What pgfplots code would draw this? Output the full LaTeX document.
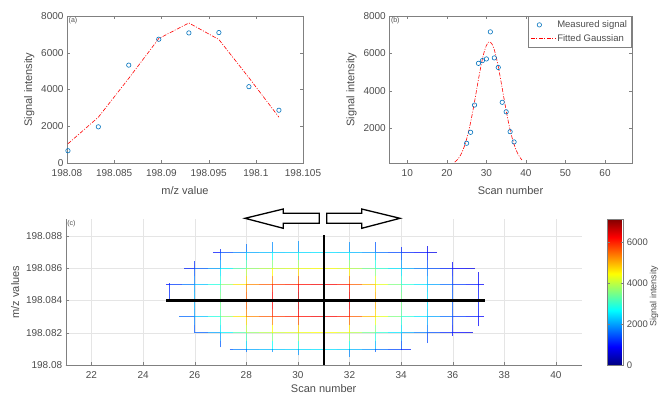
\documentclass[border=0pt]{standalone}
\usepackage{fontspec}
\setmainfont{Liberation Sans}
\usepackage{pgfplots}
\pgfplotsset{compat=1.18}

\definecolor{mblue}{rgb}{0,0.447,0.741}
\definecolor{axgray}{gray}{0.5}
\definecolor{txtgray}{gray}{0.3}

\pgfkeys{/pgf/number format/assume math mode=true, /pgf/number format/1000 sep={}}

\pgfplotsset{
  myaxis/.style={
    scale only axis,
    font=\fontsize{10}{12}\selectfont,
    tick label style={text=txtgray},
    xticklabel style={yshift=-3pt},
    label style={text=txtgray, font=\fontsize{11}{13}\selectfont},
    axis line style={axgray},
    tick style={axgray},
    major tick length=3pt,
    scaled ticks=false,
    /pgf/number format/assume math mode=true,
    /pgf/number format/1000 sep={},
  },
  fitline/.style={red, line width=0.6pt, dash pattern=on 4pt off 1.5pt on 1pt off 1.5pt},
  meas/.style={only marks, mark=o, mark size=2.2pt, mblue, mark options={line width=0.6pt}},
  meshline/.style={mesh, point meta=explicit, line width=0.7pt, opacity=0.75},
  longleg/.style={legend image code/.code={\draw[##1] (0cm,0cm) -- (0.85cm,0cm);}},
}

\begin{document}
\begin{tikzpicture}
\useasboundingbox (0,0) rectangle (660pt,397pt);

% ---------------- (a) ----------------
% x values are (m/z - 198.08) * 1000 ; tick labels give true m/z
\begin{axis}[myaxis, at={(67pt,234pt)}, anchor=south west, width=236pt, height=147pt,
  xmin=0, xmax=25, ymin=0, ymax=8000,
  xtick={0,5,10,15,20,25}, xticklabels={198.08,198.085,198.09,198.095,198.1,198.105},
  ytick={0,2000,4000,6000,8000},
  xlabel={m/z value}, ylabel={Signal intensity}, xlabel style={yshift=-3pt}]
\addplot[meas] coordinates {(0.1,668)(3.32,1968)(6.54,5327)(9.72,6736)(12.91,7079)(16.09,7097)(19.27,4153)(22.45,2871)};
\addplot[fitline] coordinates {(0.1,1047)(3.32,2492)(6.54,4605)(9.72,6772)(12.91,7621)(16.09,6718)(19.27,4641)(22.45,2492)};
\node[anchor=north west, font=\fontsize{7}{8}\selectfont, text=txtgray, inner sep=1.5pt] at (rel axis cs:0,1) {(a)};
\end{axis}

% ---------------- (b) ----------------
\begin{axis}[myaxis, at={(389.3pt,234pt)}, anchor=south west, width=242.4pt, height=147pt,
  xmin=5.45, xmax=66.75, ymin=140, ymax=8000,
  xtick={10,20,30,40,50,60}, ytick={2000,4000,6000,8000},
  xlabel={Scan number}, ylabel={Signal intensity}, xlabel style={yshift=-3pt},
  legend style={at={(1,1)}, anchor=north east, draw=axgray, font=\fontsize{9.5}{10.5}\selectfont, text=txtgray, inner sep=2.5pt, row sep=1.5pt},
  legend cell align=left]
\addplot[meas] coordinates {(25,1195)(26,1781)(27,3238)(28,5468)(29,5616)(30,5704)(31,7151)(32,5759)(33,5249)(34,3386)(35,2877)(36,1814)(37,1266)};
\addlegendentry{Measured signal}
\addplot[fitline, longleg] coordinates {(22,189)(22.5,280)(23,405)(23.5,573)(24,792)(24.5,1070)(25,1413)(25.5,1822)(26,2298)(26.5,2833)(27,3411)(27.5,4015)(28,4619)(28.5,5192)(29,5705)(29.5,6125)(30,6428)(30.5,6593)(30.8,6620)(31,6608)(31.5,6473)(32,6196)(32.5,5797)(33,5300)(33.5,4737)(34,4137)(34.5,3531)(35,2945)(35.5,2401)(36,1913)(36.5,1489)(37,1133)(37.5,843)(38,613)(38.5,435)(39,302)};
\addlegendentry{Fitted Gaussian}
\node[anchor=north west, font=\fontsize{7}{8}\selectfont, text=txtgray, inner sep=1.5pt] at (rel axis cs:0,1) {(b)};
\end{axis}

% ---------------- (c) ----------------
% y values are (m/z - 198.08) * 1000 ; tick labels give true m/z
\begin{axis}[myaxis, at={(65.7pt,32pt)}, anchor=south west, width=516pt, height=146pt,
  xmin=21, xmax=41, ymin=0, ymax=9.05,
  xtick={22,24,26,28,30,32,34,36,38,40}, ytick={0,2,4,6,8},
  yticklabels={198.08,198.082,198.084,198.086,198.088},
  axis x line*=bottom, axis y line*=left, axis line style={-}, tick align=inside,
  grid=major, major grid style={black!10},
  xlabel={Scan number}, ylabel={m/z values}, xlabel style={yshift=1pt},
  colormap/jet, point meta min=0, point meta max=7150,
  colorbar,
  colorbar style={at={(parent axis.north east)}, anchor=north west, xshift=17.3pt,
    width=15.7pt, ytick={0,2000,4000,6000}, font=\fontsize{9.5}{11}\selectfont,
    tick label style={text=txtgray}, axis line style={axgray}, tick style={axgray},
    major tick length=2pt, scaled ticks=false,
    /pgf/number format/assume math mode=true, /pgf/number format/1000 sep={}}]
% rows
\addplot[meshline] coordinates {(26.7,7)[800](27,7)[1251](27.5,7)[1627](28,7)[2002](28.5,7)[2127](29,7)[2252](29.5,7)[2315](30,7)[2377](30.5,7)[2440](31,7)[2503](31.5,7)[2403](32,7)[2302](32.5,7)[2052](33,7)[1802](33.5,7)[1527](34,7)[1251](34.5,7)[1064](35,7)[876](35.4,7)[600]};
\addplot[meshline] coordinates {(25.6,6)[900](26,6)[1351](26.5,6)[1802](27,6)[2252](27.5,6)[2928](28,6)[3604](28.5,6)[3829](29,6)[4054](29.5,6)[4167](30,6)[4279](30.5,6)[4392](31,6)[4505](31.5,6)[4325](32,6)[4144](32.5,6)[3694](33,6)[3243](33.5,6)[2748](34,6)[2252](34.5,6)[1915](35,6)[1577](35.5,6)[1284](36,6)[991](36.5,6)[800](36.85,6)[700]};
\addplot[meshline] coordinates {(24.9,5)[1000](25,5)[1094](25.5,5)[1513](26,5)[1931](26.5,5)[2575](27,5)[3218](27.5,5)[4183](28,5)[5148](28.5,5)[5470](29,5)[5792](29.5,5)[5953](30,5)[6113](30.5,5)[6274](31,5)[6435](31.5,5)[6178](32,5)[5920](32.5,5)[5277](33,5)[4633](33.5,5)[3926](34,5)[3218](34.5,5)[2735](35,5)[2252](35.5,5)[1834](36,5)[1416](36.5,5)[1191](37,5)[965](37.2,5)[850]};
\addplot[meshline] coordinates {(25.4,3)[1300](26,3)[1931](26.5,3)[2575](27,3)[3218](27.5,3)[4183](28,3)[5148](28.5,3)[5470](29,3)[5792](29.5,3)[5953](30,3)[6113](30.5,3)[6274](31,3)[6435](31.5,3)[6178](32,3)[5920](32.5,3)[5277](33,3)[4633](33.5,3)[3926](34,3)[3218](34.5,3)[2735](35,3)[2252](35.5,3)[1834](36,3)[1416](36.5,3)[1191](37,3)[965](37.2,3)[850]};
\addplot[meshline] coordinates {(26,2)[1351](26.5,2)[1802](27,2)[2252](27.5,2)[2928](28,2)[3604](28.5,2)[3829](29,2)[4054](29.5,2)[4167](30,2)[4279](30.5,2)[4392](31,2)[4505](31.5,2)[4325](32,2)[4144](32.5,2)[3694](33,2)[3243](33.5,2)[2748](34,2)[2252](34.5,2)[1915](35,2)[1577](35.5,2)[1284](36,2)[991](36.5,2)[800](36.8,2)[700]};
\addplot[meshline] coordinates {(27.35,1)[1300](27.5,1)[1627](28,1)[2002](28.5,1)[2127](29,1)[2252](29.5,1)[2315](30,1)[2377](30.5,1)[2440](31,1)[2503](31.5,1)[2403](32,1)[2302](32.5,1)[2052](33,1)[1802](33.5,1)[1527](34,1)[1251](34.4,1)[1000]};
% columns
\addplot[meshline] coordinates {(25,4)[1216](25,4.5)[1155](25,5)[1094](25,5.1)[1000]};
\addplot[meshline] coordinates {(26,2)[1351](26,2.5)[1641](26,3)[1931](26,3.5)[2038](26,4)[2145](26,4.5)[2038](26,5)[1931](26,5.5)[1641](26,6)[1351](26,6.45)[1100]};
\addplot[meshline] coordinates {(27,1.1)[1300](27,1.5)[1750](27,2)[2252](27,2.5)[2735](27,3)[3218](27,3.5)[3397](27,4)[3575](27,4.5)[3397](27,5)[3218](27,5.5)[2735](27,6)[2252](27,6.5)[1750](27,7)[1251](27,7.2)[1050]};
\addplot[meshline] coordinates {(28,0.8)[1400](28,1)[2002](28,1.5)[2803](28,2)[3604](28,2.5)[4376](28,3)[5148](28,3.5)[5434](28,4)[5720](28,4.5)[5434](28,5)[5148](28,5.5)[4376](28,6)[3604](28,6.5)[2803](28,7)[2002](28,7.5)[1400]};
\addplot[meshline] coordinates {(29,0.8)[1600](29,1)[2252](29,1.5)[3153](29,2)[4054](29,2.5)[4923](29,3)[5792](29,3.5)[6114](29,4)[6435](29,4.5)[6114](29,5)[5792](29,5.5)[4923](29,6)[4054](29,6.5)[3153](29,7)[2252](29,7.6)[1500]};
\addplot[meshline] coordinates {(30,0.6)[1500](30,1)[2377](30,1.5)[3328](30,2)[4279](30,2.5)[5196](30,3)[6113](30,3.5)[6453](30,4)[6793](30,4.5)[6453](30,5)[6113](30,5.5)[5196](30,6)[4279](30,6.5)[3328](30,7)[2377](30,7.7)[1500]};
\addplot[meshline] coordinates {(32,0.5)[1400](32,1)[2302](32,1.5)[3223](32,2)[4144](32,2.5)[5032](32,3)[5920](32,3.5)[6249](32,4)[6578](32,4.5)[6249](32,5)[5920](32,5.5)[5032](32,6)[4144](32,6.5)[3223](32,7)[2302](32,7.6)[1500]};
\addplot[meshline] coordinates {(33,0.8)[1300](33,1)[1802](33,1.5)[2523](33,2)[3243](33,2.5)[3938](33,3)[4633](33,3.5)[4891](33,4)[5148](33,4.5)[4891](33,5)[4633](33,5.5)[3938](33,6)[3243](33,6.5)[2523](33,7)[1802](33,7.6)[1200]};
\addplot[meshline] coordinates {(34,0.9)[1100](34,1)[1251](34,1.5)[1752](34,2)[2252](34,2.5)[2735](34,3)[3218](34,3.5)[3397](34,4)[3575](34,4.5)[3397](34,5)[3218](34,5.5)[2735](34,6)[2252](34,6.5)[1752](34,7)[1251](34,7.3)[1000]};
\addplot[meshline] coordinates {(35,1.35)[1200](35,2)[1577](35,2.5)[1915](35,3)[2252](35,3.5)[2378](35,4)[2503](35,4.5)[2378](35,5)[2252](35,5.5)[1915](35,6)[1577](35,6.5)[1227](35,7)[876](35,7.4)[700]};
\addplot[meshline] coordinates {(36,1.8)[850](36,2)[991](36,2.5)[1204](36,3)[1416](36,3.5)[1495](36,4)[1573](36,4.5)[1495](36,5)[1416](36,5.5)[1204](36,6)[991](36,6.4)[850]};
\addplot[meshline] coordinates {(37,2.4)[800](37,3)[965](37,3.5)[1019](37,4)[1073](37,4.5)[1019](37,5)[965](37,5.5)[850](37,5.75)[800]};
% black cross-sections
\addplot[black, line width=2.2pt] coordinates {(24.9,4)(37.25,4)};
\addplot[black, line width=2.2pt] coordinates {(31,0)(31,8.05)};
\node[anchor=north west, font=\fontsize{7}{8}\selectfont, text=txtgray, inner sep=1.5pt] at (rel axis cs:0,1) {(c)};
\end{axis}

% colorbar label
\node[rotate=90, font=\fontsize{9}{10}\selectfont, text=txtgray] at (654pt,101pt) {Signal intensity};

% hollow arrows
\draw[black, line width=1.3pt, fill=white, line join=miter]
  (245pt,178.7pt) -- (283.3pt,188pt) -- (283.3pt,183.7pt) -- (319.3pt,183.7pt)
  -- (319.3pt,173.7pt) -- (283.3pt,173.7pt) -- (283.3pt,168.7pt) -- cycle;
\draw[black, line width=1.3pt, fill=white, line join=miter]
  (400pt,178.7pt) -- (361.7pt,188pt) -- (361.7pt,183.7pt) -- (326.7pt,183.7pt)
  -- (326.7pt,173.7pt) -- (361.7pt,173.7pt) -- (361.7pt,168.7pt) -- cycle;
\end{tikzpicture}
\end{document}
